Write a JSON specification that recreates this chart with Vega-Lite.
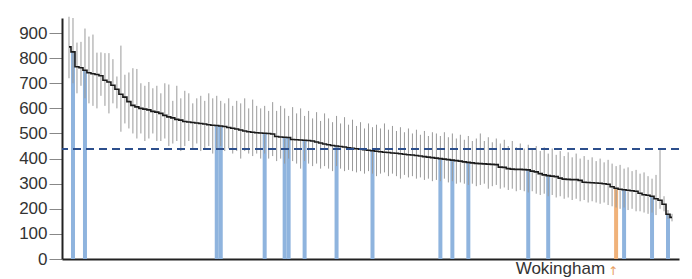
{
  "$schema": "https://vega.github.io/schema/vega-lite/v6.json",
  "width": 617,
  "height": 241,
  "autosize": {"type": "none"},
  "padding": {"left": 62, "top": 18, "right": 13, "bottom": 20},
  "background": "white",
  "config": {
    "view": {"stroke": null},
    "font": "Liberation Sans",
    "axis": {"grid": false, "title": null},
    "axisY": {"values": [0,100,200,300,400,500,600,700,800,900],
              "labelFontSize": 17, "labelColor": "#333", "labelPadding": 2,
              "labelOverlap": false, "labelFont": "Liberation Sans",
              "tickColor": "#888", "tickSize": 13,
              "domainColor": "#222", "domainWidth": 2},
    "axisX": {"labels": false, "ticks": false, "domainColor": "#222", "domainWidth": 2}
  },
  "data": {"values": [
    {"rank":1,"est":845,"lo":720,"hi":965,"grp":"none"},
    {"rank":2,"est":825,"lo":700,"hi":960,"grp":"blue"},
    {"rank":3,"est":766,"lo":660,"hi":862,"grp":"none"},
    {"rank":4,"est":762,"lo":690,"hi":865,"grp":"none"},
    {"rank":5,"est":752,"lo":640,"hi":918,"grp":"blue"},
    {"rank":6,"est":742,"lo":620,"hi":886,"grp":"none"},
    {"rank":7,"est":738,"lo":610,"hi":894,"grp":"none"},
    {"rank":8,"est":735,"lo":600,"hi":822,"grp":"none"},
    {"rank":9,"est":730,"lo":650,"hi":823,"grp":"none"},
    {"rank":10,"est":712,"lo":610,"hi":820,"grp":"none"},
    {"rank":11,"est":705,"lo":580,"hi":820,"grp":"none"},
    {"rank":12,"est":692,"lo":620,"hi":796,"grp":"none"},
    {"rank":13,"est":676,"lo":600,"hi":727,"grp":"none"},
    {"rank":14,"est":656,"lo":507,"hi":850,"grp":"none"},
    {"rank":15,"est":645,"lo":540,"hi":734,"grp":"none"},
    {"rank":16,"est":627,"lo":520,"hi":743,"grp":"none"},
    {"rank":17,"est":612,"lo":500,"hi":760,"grp":"none"},
    {"rank":18,"est":606,"lo":480,"hi":757,"grp":"none"},
    {"rank":19,"est":600,"lo":500,"hi":700,"grp":"none"},
    {"rank":20,"est":597,"lo":470,"hi":690,"grp":"none"},
    {"rank":21,"est":594,"lo":480,"hi":705,"grp":"none"},
    {"rank":22,"est":588,"lo":500,"hi":680,"grp":"none"},
    {"rank":23,"est":585,"lo":470,"hi":690,"grp":"none"},
    {"rank":24,"est":580,"lo":470,"hi":660,"grp":"none"},
    {"rank":25,"est":572,"lo":480,"hi":700,"grp":"none"},
    {"rank":26,"est":566,"lo":450,"hi":695,"grp":"none"},
    {"rank":27,"est":562,"lo":460,"hi":630,"grp":"none"},
    {"rank":28,"est":556,"lo":470,"hi":690,"grp":"none"},
    {"rank":29,"est":553,"lo":430,"hi":640,"grp":"none"},
    {"rank":30,"est":548,"lo":450,"hi":670,"grp":"none"},
    {"rank":31,"est":546,"lo":470,"hi":660,"grp":"none"},
    {"rank":32,"est":544,"lo":440,"hi":620,"grp":"none"},
    {"rank":33,"est":542,"lo":460,"hi":640,"grp":"none"},
    {"rank":34,"est":540,"lo":430,"hi":650,"grp":"none"},
    {"rank":35,"est":538,"lo":440,"hi":630,"grp":"none"},
    {"rank":36,"est":535,"lo":450,"hi":660,"grp":"none"},
    {"rank":37,"est":533,"lo":420,"hi":640,"grp":"none"},
    {"rank":38,"est":532,"lo":440,"hi":650,"grp":"blue"},
    {"rank":39,"est":530,"lo":450,"hi":630,"grp":"blue"},
    {"rank":40,"est":528,"lo":430,"hi":620,"grp":"none"},
    {"rank":41,"est":524,"lo":440,"hi":640,"grp":"none"},
    {"rank":42,"est":521,"lo":420,"hi":610,"grp":"none"},
    {"rank":43,"est":518,"lo":430,"hi":630,"grp":"none"},
    {"rank":44,"est":514,"lo":400,"hi":620,"grp":"none"},
    {"rank":45,"est":510,"lo":430,"hi":640,"grp":"none"},
    {"rank":46,"est":507,"lo":420,"hi":600,"grp":"none"},
    {"rank":47,"est":505,"lo":410,"hi":635,"grp":"none"},
    {"rank":48,"est":503,"lo":420,"hi":610,"grp":"none"},
    {"rank":49,"est":502,"lo":400,"hi":600,"grp":"none"},
    {"rank":50,"est":501,"lo":420,"hi":610,"grp":"blue"},
    {"rank":51,"est":500,"lo":400,"hi":590,"grp":"none"},
    {"rank":52,"est":498,"lo":410,"hi":625,"grp":"none"},
    {"rank":53,"est":488,"lo":390,"hi":590,"grp":"none"},
    {"rank":54,"est":486,"lo":400,"hi":610,"grp":"none"},
    {"rank":55,"est":485,"lo":380,"hi":600,"grp":"blue"},
    {"rank":56,"est":484,"lo":400,"hi":570,"grp":"blue"},
    {"rank":57,"est":476,"lo":390,"hi":605,"grp":"none"},
    {"rank":58,"est":475,"lo":380,"hi":580,"grp":"none"},
    {"rank":59,"est":474,"lo":360,"hi":600,"grp":"none"},
    {"rank":60,"est":473,"lo":390,"hi":570,"grp":"blue"},
    {"rank":61,"est":472,"lo":380,"hi":590,"grp":"none"},
    {"rank":62,"est":470,"lo":370,"hi":560,"grp":"none"},
    {"rank":63,"est":466,"lo":380,"hi":585,"grp":"none"},
    {"rank":64,"est":462,"lo":360,"hi":550,"grp":"none"},
    {"rank":65,"est":458,"lo":370,"hi":580,"grp":"none"},
    {"rank":66,"est":455,"lo":360,"hi":560,"grp":"none"},
    {"rank":67,"est":452,"lo":350,"hi":545,"grp":"none"},
    {"rank":68,"est":450,"lo":370,"hi":570,"grp":"blue"},
    {"rank":69,"est":448,"lo":360,"hi":540,"grp":"none"},
    {"rank":70,"est":446,"lo":350,"hi":565,"grp":"none"},
    {"rank":71,"est":443,"lo":355,"hi":535,"grp":"none"},
    {"rank":72,"est":441,"lo":350,"hi":555,"grp":"none"},
    {"rank":73,"est":439,"lo":345,"hi":530,"grp":"none"},
    {"rank":74,"est":437,"lo":350,"hi":545,"grp":"none"},
    {"rank":75,"est":435,"lo":340,"hi":520,"grp":"none"},
    {"rank":76,"est":433,"lo":350,"hi":540,"grp":"none"},
    {"rank":77,"est":431,"lo":340,"hi":525,"grp":"blue"},
    {"rank":78,"est":429,"lo":330,"hi":535,"grp":"none"},
    {"rank":79,"est":427,"lo":340,"hi":520,"grp":"none"},
    {"rank":80,"est":425,"lo":345,"hi":540,"grp":"none"},
    {"rank":81,"est":424,"lo":330,"hi":515,"grp":"none"},
    {"rank":82,"est":422,"lo":340,"hi":530,"grp":"none"},
    {"rank":83,"est":421,"lo":330,"hi":510,"grp":"none"},
    {"rank":84,"est":419,"lo":320,"hi":525,"grp":"none"},
    {"rank":85,"est":417,"lo":335,"hi":505,"grp":"none"},
    {"rank":86,"est":415,"lo":325,"hi":520,"grp":"none"},
    {"rank":87,"est":414,"lo":330,"hi":500,"grp":"none"},
    {"rank":88,"est":412,"lo":320,"hi":515,"grp":"none"},
    {"rank":89,"est":410,"lo":325,"hi":495,"grp":"none"},
    {"rank":90,"est":408,"lo":315,"hi":510,"grp":"none"},
    {"rank":91,"est":406,"lo":320,"hi":490,"grp":"none"},
    {"rank":92,"est":404,"lo":310,"hi":505,"grp":"none"},
    {"rank":93,"est":402,"lo":315,"hi":500,"grp":"none"},
    {"rank":94,"est":400,"lo":310,"hi":490,"grp":"blue"},
    {"rank":95,"est":398,"lo":320,"hi":505,"grp":"none"},
    {"rank":96,"est":396,"lo":305,"hi":485,"grp":"none"},
    {"rank":97,"est":394,"lo":310,"hi":500,"grp":"blue"},
    {"rank":98,"est":392,"lo":300,"hi":480,"grp":"none"},
    {"rank":99,"est":390,"lo":305,"hi":495,"grp":"none"},
    {"rank":100,"est":387,"lo":300,"hi":475,"grp":"none"},
    {"rank":101,"est":385,"lo":295,"hi":490,"grp":"blue"},
    {"rank":102,"est":383,"lo":300,"hi":470,"grp":"none"},
    {"rank":103,"est":381,"lo":290,"hi":480,"grp":"none"},
    {"rank":104,"est":380,"lo":295,"hi":500,"grp":"none"},
    {"rank":105,"est":379,"lo":300,"hi":470,"grp":"none"},
    {"rank":106,"est":378,"lo":280,"hi":485,"grp":"none"},
    {"rank":107,"est":377,"lo":290,"hi":465,"grp":"none"},
    {"rank":108,"est":376,"lo":295,"hi":480,"grp":"none"},
    {"rank":109,"est":366,"lo":280,"hi":460,"grp":"none"},
    {"rank":110,"est":365,"lo":285,"hi":475,"grp":"none"},
    {"rank":111,"est":360,"lo":275,"hi":450,"grp":"none"},
    {"rank":112,"est":358,"lo":280,"hi":470,"grp":"none"},
    {"rank":113,"est":357,"lo":270,"hi":445,"grp":"none"},
    {"rank":114,"est":357,"lo":275,"hi":460,"grp":"none"},
    {"rank":115,"est":356,"lo":270,"hi":440,"grp":"none"},
    {"rank":116,"est":355,"lo":265,"hi":455,"grp":"blue"},
    {"rank":117,"est":350,"lo":270,"hi":435,"grp":"none"},
    {"rank":118,"est":347,"lo":260,"hi":450,"grp":"none"},
    {"rank":119,"est":340,"lo":255,"hi":430,"grp":"none"},
    {"rank":120,"est":335,"lo":260,"hi":445,"grp":"none"},
    {"rank":121,"est":332,"lo":250,"hi":420,"grp":"blue"},
    {"rank":122,"est":330,"lo":255,"hi":440,"grp":"none"},
    {"rank":123,"est":328,"lo":245,"hi":415,"grp":"none"},
    {"rank":124,"est":322,"lo":250,"hi":430,"grp":"none"},
    {"rank":125,"est":318,"lo":240,"hi":410,"grp":"none"},
    {"rank":126,"est":317,"lo":245,"hi":425,"grp":"none"},
    {"rank":127,"est":316,"lo":235,"hi":405,"grp":"none"},
    {"rank":128,"est":316,"lo":240,"hi":420,"grp":"none"},
    {"rank":129,"est":313,"lo":230,"hi":400,"grp":"none"},
    {"rank":130,"est":306,"lo":235,"hi":410,"grp":"none"},
    {"rank":131,"est":305,"lo":225,"hi":395,"grp":"none"},
    {"rank":132,"est":304,"lo":230,"hi":405,"grp":"none"},
    {"rank":133,"est":303,"lo":225,"hi":390,"grp":"none"},
    {"rank":134,"est":302,"lo":220,"hi":400,"grp":"none"},
    {"rank":135,"est":300,"lo":225,"hi":385,"grp":"none"},
    {"rank":136,"est":298,"lo":215,"hi":395,"grp":"none"},
    {"rank":137,"est":288,"lo":210,"hi":380,"grp":"none"},
    {"rank":138,"est":282,"lo":205,"hi":370,"grp":"orange","name":"Wokingham"},
    {"rank":139,"est":278,"lo":200,"hi":375,"grp":"none"},
    {"rank":140,"est":276,"lo":205,"hi":360,"grp":"blue"},
    {"rank":141,"est":274,"lo":195,"hi":365,"grp":"none"},
    {"rank":142,"est":272,"lo":200,"hi":350,"grp":"none"},
    {"rank":143,"est":270,"lo":190,"hi":355,"grp":"none"},
    {"rank":144,"est":262,"lo":190,"hi":340,"grp":"none"},
    {"rank":145,"est":256,"lo":185,"hi":345,"grp":"none"},
    {"rank":146,"est":254,"lo":180,"hi":330,"grp":"none"},
    {"rank":147,"est":250,"lo":185,"hi":320,"grp":"blue"},
    {"rank":148,"est":240,"lo":175,"hi":335,"grp":"none"},
    {"rank":149,"est":234,"lo":200,"hi":435,"grp":"none"},
    {"rank":150,"est":218,"lo":190,"hi":250,"grp":"none"},
    {"rank":151,"est":178,"lo":160,"hi":195,"grp":"blue"},
    {"rank":152,"est":166,"lo":150,"hi":180,"grp":"none"}
  ]},
  "encoding": {
    "x": {"field": "rank", "type": "quantitative",
          "scale": {"domain": [0.5, 152.5], "nice": false, "zero": false}}
  },
  "layer": [
    {
      "transform": [{"filter": "datum.grp != 'none'"}],
      "mark": {"type": "bar", "size": 4},
      "encoding": {
        "y": {"field": "est", "type": "quantitative",
              "scale": {"domain": [0, 960], "nice": false}},
        "color": {"field": "grp", "type": "nominal",
                  "scale": {"domain": ["blue", "orange"], "range": ["#8fb4de", "#f0b27a"]},
                  "legend": null}
      }
    },
    {
      "mark": {"type": "rule", "color": "#9a9a9a", "strokeWidth": 1},
      "encoding": {
        "y": {"field": "lo", "type": "quantitative"},
        "y2": {"field": "hi"}
      }
    },
    {
      "mark": {"type": "line", "interpolate": "step", "color": "#1a1a1a", "strokeWidth": 1.6},
      "encoding": {
        "y": {"field": "est", "type": "quantitative"}
      }
    },
    {
      "mark": {"type": "rule", "color": "#2c4f8c", "strokeWidth": 1.5, "strokeDash": [8, 5]},
      "encoding": {"y": {"datum": 437}, "x": null}
    },
    {
      "transform": [{"filter": "datum.grp == 'orange'"}],
      "mark": {"type": "text", "align": "right", "baseline": "alphabetic", "dx": -11, "dy": 15,
               "fontSize": 17, "color": "#333"},
      "encoding": {
        "y": {"datum": 0},
        "text": {"field": "name"}
      }
    },
    {
      "transform": [{"filter": "datum.grp == 'orange'"}],
      "mark": {"type": "text", "align": "center", "baseline": "alphabetic", "dx": -3, "dy": 16,
               "fontSize": 12, "color": "#e8a060", "font": "DejaVu Sans"},
      "encoding": {
        "y": {"datum": 0},
        "text": {"value": "↑"}
      }
    }
  ]
}
